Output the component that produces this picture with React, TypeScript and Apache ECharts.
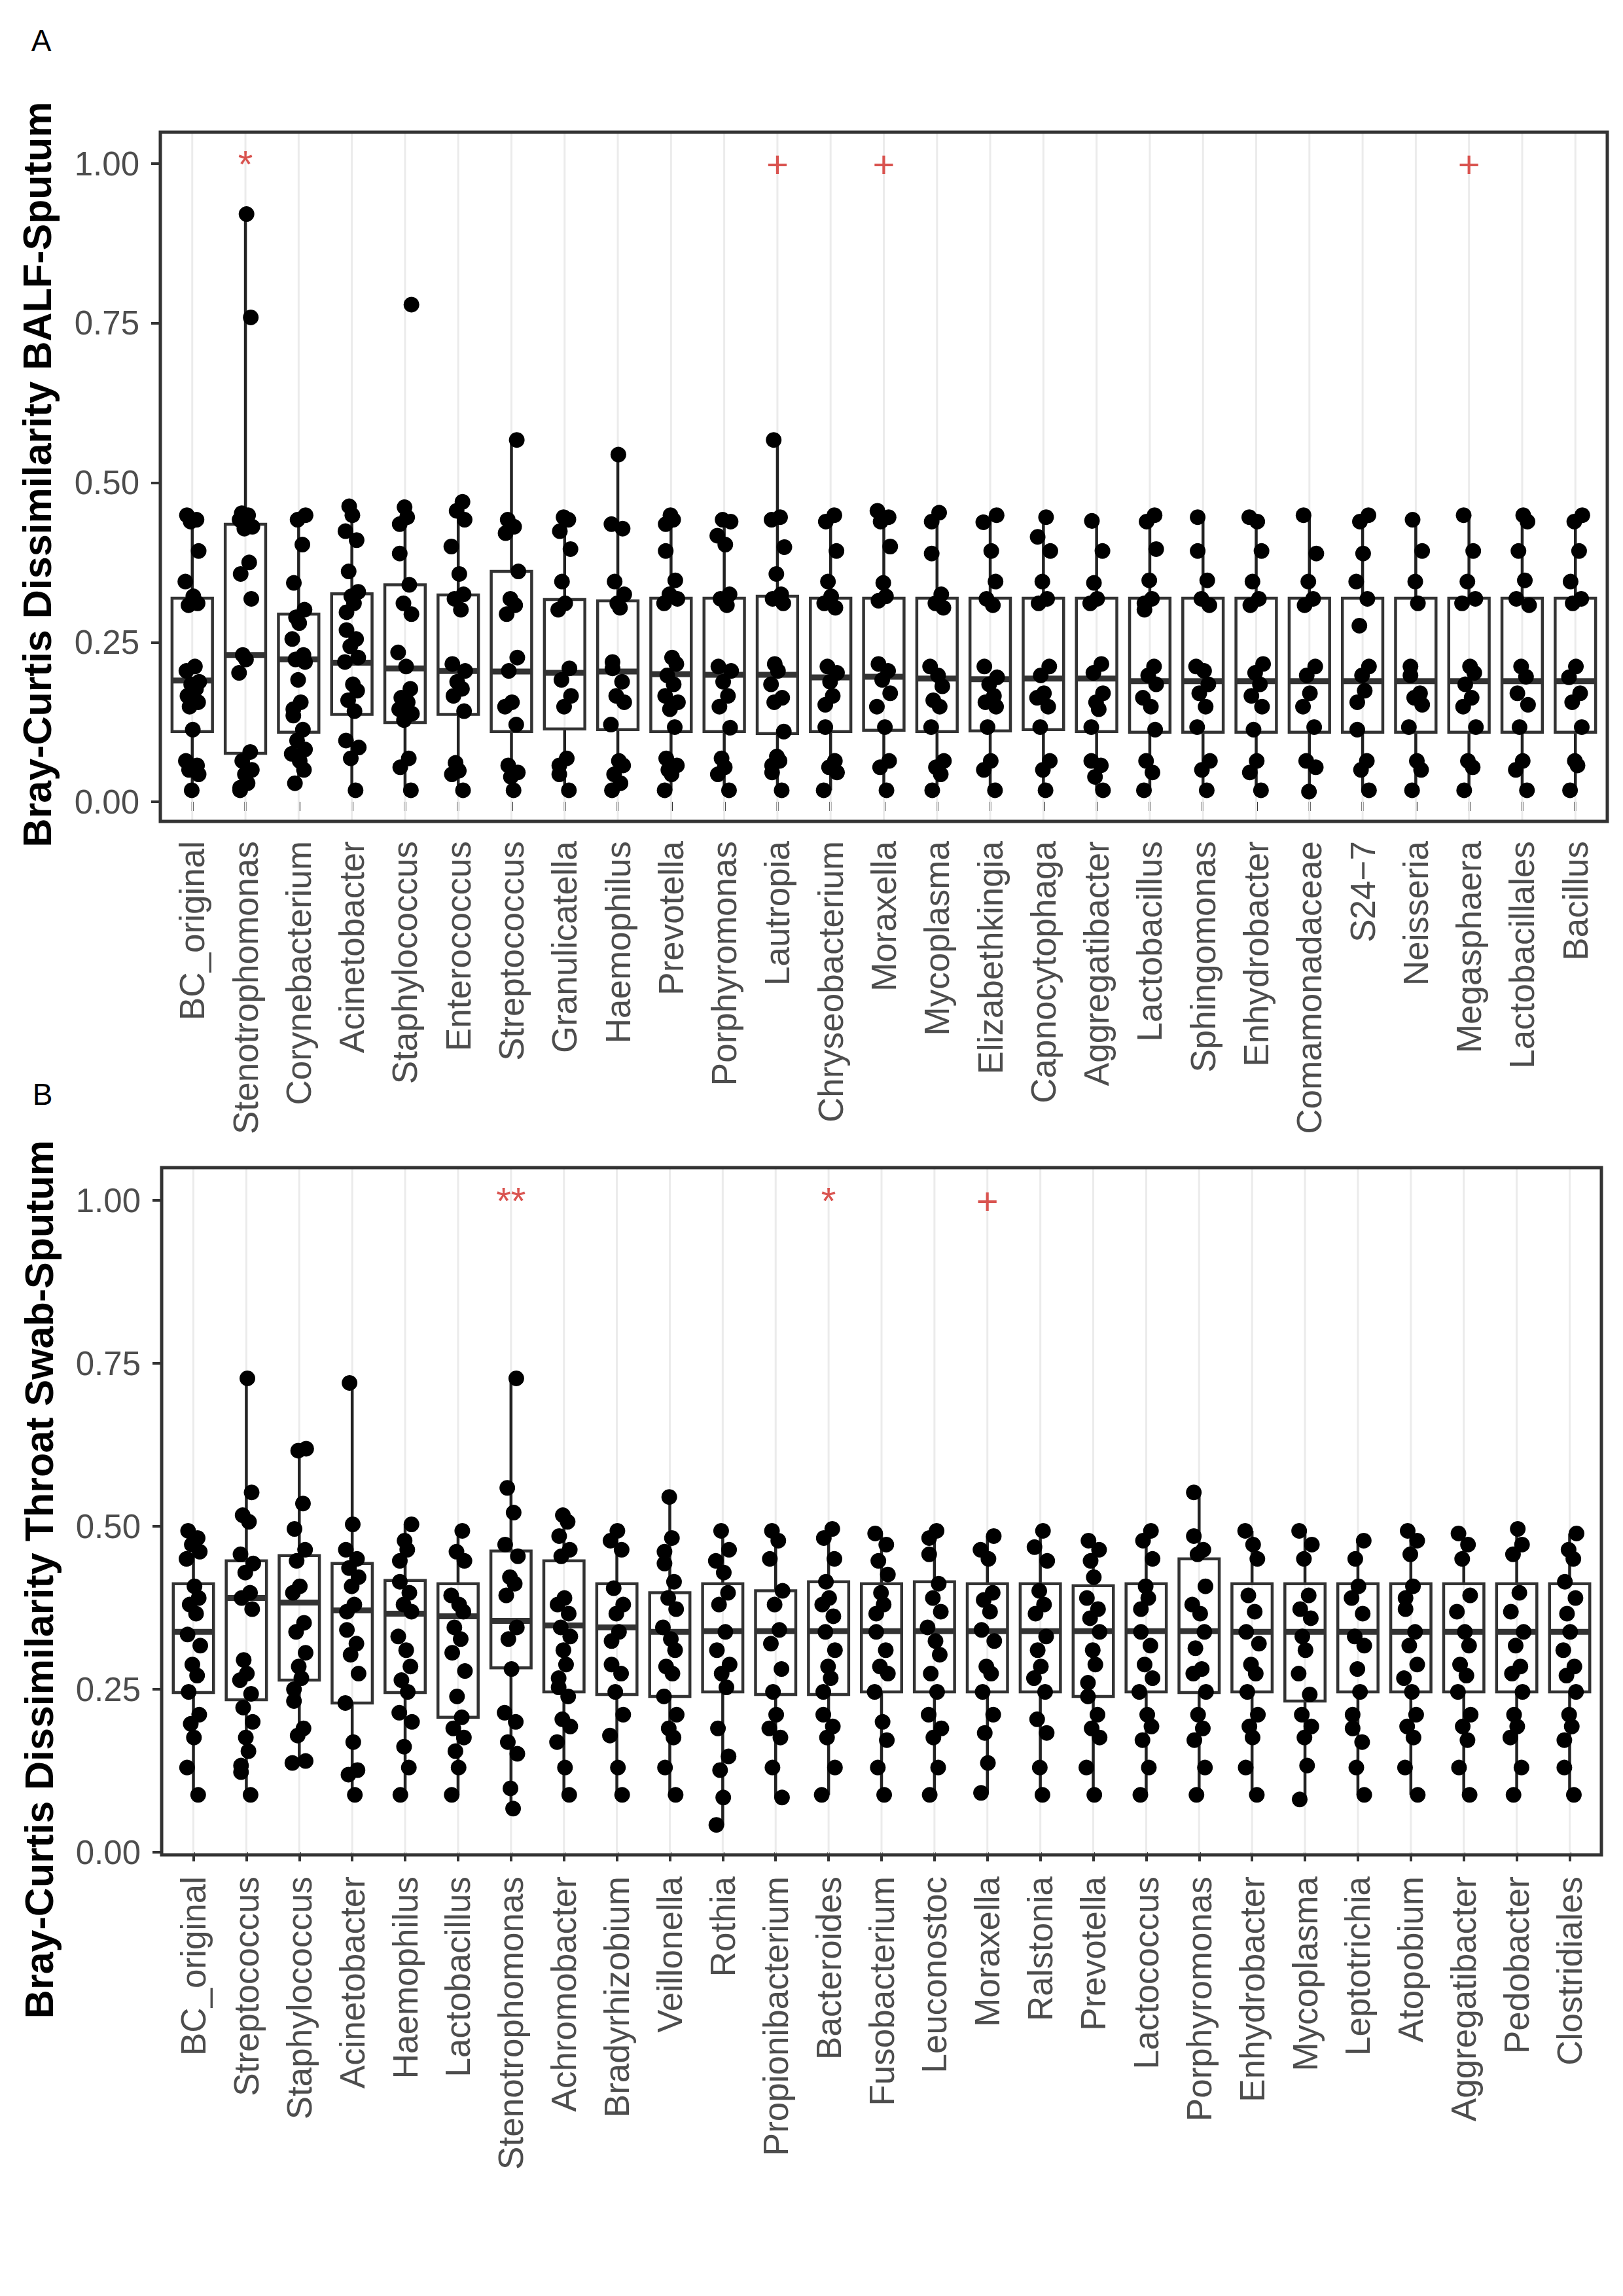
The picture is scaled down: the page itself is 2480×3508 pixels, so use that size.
import React, { useEffect, useRef } from "react";
import * as echarts from "echarts";

// ---------------- DATA ----------------
const CATS_A = [
  "BC_original", "Stenotrophomonas", "Corynebacterium", "Acinetobacter", "Staphylococcus",
  "Enterococcus", "Streptococcus", "Granulicatella", "Haemophilus", "Prevotella",
  "Porphyromonas", "Lautropia", "Chryseobacterium", "Moraxella", "Mycoplasma",
  "Elizabethkingia", "Capnocytophaga", "Aggregatibacter", "Lactobacillus", "Sphingomonas",
  "Enhydrobacter", "Comamonadaceae", "S24\u22127", "Neisseria", "Megasphaera",
  "Lactobacillales", "Bacillus",
];
// [lower whisker, Q1, median, Q3, upper whisker]
const BOX_A = [
  [0.018, 0.110, 0.190, 0.319, 0.449],
  [0.018, 0.076, 0.230, 0.435, 0.921],
  [0.029, 0.109, 0.223, 0.294, 0.449],
  [0.018, 0.137, 0.218, 0.326, 0.463],
  [0.018, 0.124, 0.209, 0.340, 0.463],
  [0.018, 0.137, 0.205, 0.324, 0.470],
  [0.018, 0.110, 0.204, 0.361, 0.567],
  [0.018, 0.114, 0.202, 0.317, 0.446],
  [0.018, 0.113, 0.204, 0.315, 0.544],
  [0.018, 0.110, 0.200, 0.319, 0.449],
  [0.018, 0.110, 0.199, 0.319, 0.442],
  [0.018, 0.107, 0.199, 0.322, 0.567],
  [0.018, 0.110, 0.195, 0.319, 0.449],
  [0.018, 0.112, 0.196, 0.319, 0.456],
  [0.018, 0.110, 0.193, 0.319, 0.453],
  [0.018, 0.111, 0.192, 0.319, 0.449],
  [0.018, 0.113, 0.193, 0.319, 0.446],
  [0.018, 0.110, 0.193, 0.319, 0.442],
  [0.018, 0.109, 0.189, 0.319, 0.449],
  [0.018, 0.109, 0.189, 0.319, 0.446],
  [0.018, 0.109, 0.189, 0.319, 0.446],
  [0.018, 0.109, 0.189, 0.319, 0.449],
  [0.018, 0.109, 0.189, 0.319, 0.449],
  [0.018, 0.109, 0.189, 0.319, 0.442],
  [0.018, 0.109, 0.189, 0.319, 0.449],
  [0.018, 0.109, 0.189, 0.319, 0.449],
  [0.018, 0.109, 0.189, 0.319, 0.449],
];
const PTS_A = [
  [0.449, 0.442, 0.439, 0.393, 0.345, 0.322, 0.311, 0.308, 0.212, 0.205, 0.188, 0.184, 0.177, 0.166, 0.156, 0.149, 0.113, 0.064, 0.057, 0.050, 0.043, 0.018],
  [0.921, 0.759, 0.453, 0.449, 0.442, 0.431, 0.428, 0.375, 0.357, 0.318, 0.230, 0.223, 0.202, 0.078, 0.064, 0.050, 0.043, 0.029, 0.022, 0.018],
  [0.449, 0.442, 0.403, 0.343, 0.301, 0.290, 0.280, 0.255, 0.230, 0.223, 0.219, 0.191, 0.156, 0.145, 0.135, 0.113, 0.096, 0.082, 0.075, 0.064, 0.050, 0.029],
  [0.463, 0.449, 0.424, 0.410, 0.361, 0.329, 0.322, 0.311, 0.297, 0.269, 0.255, 0.244, 0.226, 0.219, 0.184, 0.174, 0.159, 0.142, 0.096, 0.085, 0.068, 0.018],
  [0.779, 0.463, 0.446, 0.435, 0.389, 0.340, 0.311, 0.294, 0.234, 0.212, 0.177, 0.163, 0.156, 0.145, 0.138, 0.128, 0.068, 0.054, 0.018],
  [0.470, 0.456, 0.442, 0.400, 0.357, 0.325, 0.318, 0.301, 0.216, 0.205, 0.188, 0.177, 0.166, 0.142, 0.061, 0.050, 0.043, 0.018],
  [0.567, 0.442, 0.431, 0.421, 0.361, 0.318, 0.308, 0.294, 0.226, 0.205, 0.156, 0.149, 0.121, 0.057, 0.046, 0.039, 0.018],
  [0.446, 0.442, 0.424, 0.396, 0.345, 0.311, 0.301, 0.209, 0.191, 0.166, 0.149, 0.068, 0.057, 0.043, 0.018],
  [0.544, 0.435, 0.428, 0.345, 0.325, 0.311, 0.304, 0.219, 0.209, 0.188, 0.166, 0.156, 0.121, 0.064, 0.057, 0.043, 0.029, 0.018],
  [0.449, 0.442, 0.435, 0.393, 0.347, 0.325, 0.318, 0.311, 0.226, 0.216, 0.198, 0.184, 0.166, 0.156, 0.145, 0.117, 0.068, 0.057, 0.050, 0.043, 0.018],
  [0.442, 0.439, 0.417, 0.403, 0.325, 0.318, 0.308, 0.212, 0.205, 0.188, 0.166, 0.149, 0.117, 0.068, 0.054, 0.043, 0.018],
  [0.567, 0.446, 0.442, 0.400, 0.357, 0.325, 0.318, 0.311, 0.216, 0.205, 0.184, 0.163, 0.156, 0.110, 0.071, 0.064, 0.057, 0.046, 0.018],
  [0.449, 0.439, 0.393, 0.345, 0.322, 0.311, 0.304, 0.212, 0.202, 0.188, 0.166, 0.152, 0.117, 0.064, 0.054, 0.046, 0.018],
  [0.456, 0.446, 0.439, 0.400, 0.343, 0.322, 0.315, 0.216, 0.205, 0.191, 0.170, 0.149, 0.117, 0.064, 0.054, 0.018],
  [0.453, 0.439, 0.389, 0.325, 0.311, 0.304, 0.212, 0.198, 0.181, 0.159, 0.149, 0.117, 0.064, 0.054, 0.043, 0.018],
  [0.449, 0.439, 0.393, 0.345, 0.318, 0.308, 0.212, 0.195, 0.184, 0.166, 0.156, 0.149, 0.117, 0.064, 0.050, 0.018],
  [0.446, 0.417, 0.393, 0.345, 0.318, 0.311, 0.212, 0.198, 0.170, 0.163, 0.149, 0.117, 0.064, 0.050, 0.018],
  [0.442, 0.393, 0.343, 0.318, 0.311, 0.216, 0.202, 0.170, 0.156, 0.145, 0.117, 0.064, 0.057, 0.039, 0.018],
  [0.449, 0.439, 0.396, 0.347, 0.318, 0.311, 0.301, 0.212, 0.198, 0.184, 0.163, 0.149, 0.113, 0.064, 0.046, 0.018],
  [0.446, 0.393, 0.347, 0.318, 0.308, 0.212, 0.205, 0.184, 0.170, 0.149, 0.117, 0.064, 0.050, 0.018],
  [0.446, 0.439, 0.393, 0.345, 0.318, 0.308, 0.216, 0.202, 0.184, 0.166, 0.149, 0.113, 0.064, 0.046, 0.018],
  [0.449, 0.389, 0.345, 0.318, 0.308, 0.212, 0.198, 0.170, 0.149, 0.117, 0.064, 0.054, 0.018],
  [0.449, 0.439, 0.389, 0.345, 0.318, 0.276, 0.212, 0.198, 0.174, 0.156, 0.113, 0.064, 0.050, 0.018],
  [0.442, 0.393, 0.345, 0.311, 0.212, 0.198, 0.170, 0.163, 0.152, 0.117, 0.064, 0.050, 0.018],
  [0.449, 0.393, 0.345, 0.318, 0.311, 0.212, 0.202, 0.184, 0.163, 0.149, 0.117, 0.064, 0.054, 0.018],
  [0.449, 0.439, 0.393, 0.347, 0.318, 0.308, 0.212, 0.198, 0.170, 0.152, 0.117, 0.064, 0.050, 0.018],
  [0.449, 0.439, 0.393, 0.345, 0.318, 0.311, 0.212, 0.195, 0.170, 0.156, 0.117, 0.064, 0.057, 0.018],
];
const SIG_A_CATS = ["Stenotrophomonas", "Lautropia", "Moraxella", "Megasphaera"];
const SIG_A_MARKS = ["*", "+", "+", "+"];

const CATS_B = [
  "BC_original", "Streptococcus", "Staphylococcus", "Acinetobacter", "Haemophilus",
  "Lactobacillus", "Stenotrophomonas", "Achromobacter", "Bradyrhizobium", "Veillonella",
  "Rothia", "Propionibacterium", "Bacteroides", "Fusobacterium", "Leuconostoc",
  "Moraxella", "Ralstonia", "Prevotella", "Lactococcus", "Porphyromonas",
  "Enhydrobacter", "Mycoplasma", "Leptotrichia", "Atopobium", "Aggregatibacter",
  "Pedobacter", "Clostridiales",
];
const BOX_B = [
  [0.088, 0.245, 0.338, 0.412, 0.493],
  [0.088, 0.234, 0.390, 0.447, 0.727],
  [0.137, 0.264, 0.383, 0.455, 0.619],
  [0.088, 0.229, 0.371, 0.443, 0.720],
  [0.088, 0.245, 0.366, 0.417, 0.503],
  [0.088, 0.207, 0.362, 0.412, 0.493],
  [0.067, 0.283, 0.355, 0.462, 0.727],
  [0.088, 0.246, 0.348, 0.447, 0.517],
  [0.088, 0.242, 0.345, 0.412, 0.493],
  [0.088, 0.239, 0.338, 0.398, 0.545],
  [0.042, 0.246, 0.339, 0.412, 0.493],
  [0.084, 0.242, 0.339, 0.401, 0.493],
  [0.088, 0.242, 0.339, 0.415, 0.496],
  [0.088, 0.246, 0.339, 0.412, 0.489],
  [0.088, 0.246, 0.339, 0.415, 0.493],
  [0.091, 0.246, 0.339, 0.412, 0.485],
  [0.088, 0.246, 0.339, 0.412, 0.493],
  [0.088, 0.239, 0.339, 0.409, 0.478],
  [0.088, 0.246, 0.339, 0.412, 0.493],
  [0.088, 0.245, 0.339, 0.450, 0.552],
  [0.088, 0.246, 0.338, 0.412, 0.493],
  [0.081, 0.232, 0.338, 0.412, 0.493],
  [0.088, 0.246, 0.338, 0.412, 0.478],
  [0.088, 0.246, 0.338, 0.412, 0.493],
  [0.088, 0.246, 0.338, 0.412, 0.489],
  [0.088, 0.246, 0.338, 0.412, 0.496],
  [0.088, 0.246, 0.338, 0.412, 0.489],
];
const PTS_B = [
  [0.493, 0.482, 0.472, 0.461, 0.450, 0.408, 0.390, 0.380, 0.366, 0.334, 0.317, 0.288, 0.271, 0.246, 0.211, 0.197, 0.176, 0.130, 0.088],
  [0.727, 0.552, 0.517, 0.507, 0.457, 0.443, 0.429, 0.398, 0.390, 0.373, 0.295, 0.274, 0.264, 0.243, 0.222, 0.200, 0.176, 0.155, 0.133, 0.123, 0.088],
  [0.619, 0.616, 0.535, 0.496, 0.464, 0.447, 0.408, 0.398, 0.352, 0.338, 0.306, 0.285, 0.267, 0.250, 0.232, 0.190, 0.179, 0.140, 0.137],
  [0.720, 0.503, 0.464, 0.450, 0.436, 0.422, 0.408, 0.380, 0.369, 0.341, 0.320, 0.303, 0.274, 0.229, 0.169, 0.126, 0.119, 0.088],
  [0.503, 0.478, 0.464, 0.447, 0.415, 0.398, 0.380, 0.369, 0.331, 0.310, 0.285, 0.264, 0.246, 0.214, 0.200, 0.162, 0.130, 0.088],
  [0.493, 0.461, 0.447, 0.394, 0.380, 0.369, 0.345, 0.327, 0.306, 0.278, 0.239, 0.207, 0.190, 0.176, 0.155, 0.130, 0.088],
  [0.727, 0.559, 0.521, 0.472, 0.454, 0.422, 0.412, 0.394, 0.345, 0.327, 0.281, 0.214, 0.200, 0.169, 0.151, 0.098, 0.067],
  [0.517, 0.507, 0.485, 0.464, 0.454, 0.390, 0.380, 0.366, 0.345, 0.331, 0.310, 0.288, 0.267, 0.253, 0.239, 0.204, 0.193, 0.169, 0.130, 0.088],
  [0.493, 0.478, 0.464, 0.405, 0.380, 0.366, 0.338, 0.324, 0.288, 0.274, 0.246, 0.211, 0.179, 0.130, 0.088],
  [0.545, 0.482, 0.461, 0.443, 0.415, 0.390, 0.373, 0.345, 0.327, 0.310, 0.285, 0.274, 0.239, 0.211, 0.190, 0.176, 0.130, 0.088],
  [0.493, 0.464, 0.447, 0.429, 0.398, 0.380, 0.338, 0.310, 0.288, 0.274, 0.253, 0.190, 0.147, 0.126, 0.084, 0.042],
  [0.493, 0.478, 0.450, 0.401, 0.380, 0.341, 0.320, 0.281, 0.246, 0.211, 0.190, 0.176, 0.130, 0.084],
  [0.496, 0.482, 0.450, 0.415, 0.390, 0.380, 0.362, 0.338, 0.310, 0.285, 0.267, 0.246, 0.211, 0.193, 0.176, 0.130, 0.088],
  [0.489, 0.472, 0.447, 0.426, 0.398, 0.380, 0.366, 0.338, 0.310, 0.285, 0.274, 0.246, 0.200, 0.172, 0.130, 0.088],
  [0.493, 0.482, 0.457, 0.412, 0.390, 0.369, 0.345, 0.324, 0.303, 0.274, 0.246, 0.211, 0.190, 0.176, 0.130, 0.088],
  [0.485, 0.464, 0.450, 0.398, 0.387, 0.369, 0.341, 0.324, 0.285, 0.274, 0.246, 0.211, 0.183, 0.137, 0.091],
  [0.493, 0.468, 0.447, 0.401, 0.380, 0.366, 0.331, 0.310, 0.285, 0.267, 0.246, 0.204, 0.183, 0.130, 0.088],
  [0.478, 0.464, 0.447, 0.422, 0.390, 0.373, 0.359, 0.338, 0.310, 0.288, 0.260, 0.239, 0.211, 0.190, 0.176, 0.130, 0.088],
  [0.493, 0.478, 0.450, 0.408, 0.390, 0.373, 0.338, 0.317, 0.288, 0.267, 0.246, 0.211, 0.193, 0.172, 0.130, 0.088],
  [0.552, 0.485, 0.464, 0.457, 0.408, 0.380, 0.366, 0.338, 0.313, 0.281, 0.274, 0.246, 0.211, 0.190, 0.172, 0.130, 0.088],
  [0.493, 0.472, 0.450, 0.394, 0.369, 0.338, 0.320, 0.288, 0.274, 0.246, 0.211, 0.193, 0.176, 0.130, 0.088],
  [0.493, 0.472, 0.450, 0.394, 0.373, 0.359, 0.331, 0.310, 0.274, 0.242, 0.211, 0.193, 0.176, 0.133, 0.081],
  [0.478, 0.450, 0.408, 0.390, 0.366, 0.331, 0.317, 0.281, 0.246, 0.211, 0.190, 0.169, 0.130, 0.088],
  [0.493, 0.478, 0.457, 0.408, 0.390, 0.373, 0.338, 0.317, 0.288, 0.267, 0.246, 0.211, 0.193, 0.176, 0.130, 0.088],
  [0.489, 0.472, 0.450, 0.394, 0.369, 0.338, 0.317, 0.288, 0.271, 0.246, 0.211, 0.193, 0.172, 0.130, 0.088],
  [0.496, 0.472, 0.457, 0.398, 0.369, 0.338, 0.317, 0.285, 0.274, 0.246, 0.211, 0.193, 0.176, 0.130, 0.088],
  [0.489, 0.464, 0.450, 0.415, 0.390, 0.366, 0.338, 0.310, 0.285, 0.271, 0.246, 0.211, 0.193, 0.172, 0.130, 0.088],
];
const SIG_B_CATS = ["Stenotrophomonas", "Bacteroides", "Moraxella"];
const SIG_B_MARKS = ["**", "*", "+"];

const SIG_Y = 1.0;
const Y_TICKS = [0, 0.25, 0.5, 0.75, 1];
const Y_TICK_LABELS = ["0.00", "0.25", "0.50", "0.75", "1.00"];
const TITLE_A = "Bray-Curtis Dissimilarity BALF-Sputum";
const TITLE_B = "Bray-Curtis Dissimilarity Throat Swab-Sputum";

// ---------------- STYLE / LAYOUT ----------------
const FONT = "'Liberation Sans', Arial, Helvetica, sans-serif";
const W = 2480;
const H = 3508;
// horizontal jitter pattern (fraction of a category band), purely presentational
const JITTER = [-0.1, 0.08, -0.03, 0.12, -0.13, 0.02, 0.1, -0.07, 0.05, -0.11, 0.13, -0.02,
  0.07, -0.09, 0.11, -0.05, 0.01, -0.12, 0.09, -0.06, 0.12, -0.01, 0.04, -0.1];
const DOT_R = 12;
const BOX_FRAC = 0.76;
const DARK = "#333333";
const RED = "#d9534f";

const PANELS = [
  { cats: CATS_A, box: BOX_A, pts: PTS_A, sigCats: SIG_A_CATS, sigMarks: SIG_A_MARKS, title: TITLE_A,
    frame: { l: 245, t: 202, r: 2456, b: 1255 }, yZero: 1225, yOne: 250,
    titleX: 57, titleY: 725, letter: "A", letterX: 63, letterY: 62, xLabelMargin: 30 },
  { cats: CATS_B, box: BOX_B, pts: PTS_B, sigCats: SIG_B_CATS, sigMarks: SIG_B_MARKS, title: TITLE_B,
    frame: { l: 247, t: 1784, r: 2447, b: 2834 }, yZero: 2830, yOne: 1834,
    titleX: 60, titleY: 2413, letter: "B", letterX: 65, letterY: 1672, xLabelMargin: 33 },
];

function buildOption() {
  const grids: any[] = [];
  const xAxes: any[] = [];
  const yAxes: any[] = [];
  const series: any[] = [];
  const graphics: any[] = [];

  PANELS.forEach((p, gi) => {
    const n = p.cats.length;
    const band = (p.frame.r - p.frame.l) / (n - 1 + 1.2);
    const gridLeft = p.frame.l + 0.1 * band;
    grids.push({
      left: gridLeft, top: p.yOne, width: n * band, height: p.yZero - p.yOne,
      containLabel: false, outerBoundsMode: "none", show: false,
    });
    xAxes.push({
      type: "category", gridIndex: gi, data: p.cats, position: "bottom",
      offset: p.frame.b - p.yZero,
      axisLine: { show: false },
      axisTick: { show: true, alignWithLabel: true, length: 14, lineStyle: { color: DARK, width: 4 } },
      axisLabel: { show: true, interval: 0, rotate: 90, fontSize: 53, color: "#4d4d4d",
        fontFamily: FONT, margin: p.xLabelMargin },
      splitLine: { show: false },
    });
    yAxes.push({
      type: "value", gridIndex: gi, min: Y_TICKS[0], max: Y_TICKS[Y_TICKS.length - 1], interval: 0.25,
      offset: 0.1 * band,
      axisLine: { show: false },
      axisTick: { show: true, length: 14, lineStyle: { color: DARK, width: 4 } },
      axisLabel: { show: true, fontSize: 51, color: "#4d4d4d", fontFamily: FONT, margin: 32,
        formatter: (v: number) => {
          const idx = Y_TICKS.findIndex((t) => Math.abs(t - v) < 1e-9);
          return idx >= 0 ? Y_TICK_LABELS[idx] : "";
        } },
      splitLine: { show: false },
    });

    const frame = p.frame;
    // vertical grid lines
    series.push({
      type: "custom", xAxisIndex: gi, yAxisIndex: gi, z: 1, silent: true,
      data: p.cats.map((_, i) => [i, 0]),
      encode: { x: 0, y: 1 },
      renderItem: (params: any, api: any) => {
        const x = api.coord([api.value(0), 0])[0];
        return { type: "line", shape: { x1: x, y1: frame.t, x2: x, y2: frame.b },
          style: { stroke: "#ebebeb", lineWidth: 3 } };
      },
    });
    // boxes
    series.push({
      type: "custom", xAxisIndex: gi, yAxisIndex: gi, z: 2, silent: true,
      data: p.box.map((s, i) => [i, s[0], s[1], s[2], s[3], s[4]]),
      encode: { x: 0, y: [1, 2, 3, 4, 5] },
      renderItem: (params: any, api: any) => {
        const i = api.value(0);
        const bw = api.size([1, 0])[0] * BOX_FRAC;
        const cx = api.coord([i, api.value(1)])[0];
        const yLw = api.coord([i, api.value(1)])[1];
        const yQ1 = api.coord([i, api.value(2)])[1];
        const yMd = api.coord([i, api.value(3)])[1];
        const yQ3 = api.coord([i, api.value(4)])[1];
        const yUw = api.coord([i, api.value(5)])[1];
        const ls = { stroke: "#222222", lineWidth: 4.5 };
        return {
          type: "group",
          children: [
            { type: "line", shape: { x1: cx, y1: yUw, x2: cx, y2: yQ3 }, style: ls },
            { type: "line", shape: { x1: cx, y1: yQ1, x2: cx, y2: yLw }, style: ls },
            { type: "rect", shape: { x: cx - bw / 2, y: yQ3, width: bw, height: yQ1 - yQ3 },
              style: { fill: "none", stroke: DARK, lineWidth: 4.5 } },
            { type: "line", shape: { x1: cx - bw / 2, y1: yMd, x2: cx + bw / 2, y2: yMd },
              style: { stroke: DARK, lineWidth: 9 } },
          ],
        };
      },
    });
    // jittered points
    const ptData: number[][] = [];
    p.pts.forEach((arr, i) => arr.forEach((v, k) => ptData.push([i, v, k + i * 5])));
    series.push({
      type: "custom", xAxisIndex: gi, yAxisIndex: gi, z: 3, silent: true,
      data: ptData,
      encode: { x: 0, y: 1 },
      renderItem: (params: any, api: any) => {
        const c = api.coord([api.value(0), api.value(1)]);
        const bandW = api.size([1, 0])[0];
        const j = JITTER[api.value(2) % JITTER.length];
        return { type: "circle", shape: { cx: c[0] + j * bandW, cy: c[1], r: DOT_R },
          style: { fill: "#000000" } };
      },
    });
    // significance marks
    const marks = p.sigMarks;
    series.push({
      type: "custom", xAxisIndex: gi, yAxisIndex: gi, z: 4, silent: true, clip: false,
      data: p.sigCats.map((c) => [p.cats.indexOf(c), SIG_Y]),
      encode: { x: 0, y: 1 },
      renderItem: (params: any, api: any) => {
        const c = api.coord([api.value(0), api.value(1)]);
        return { type: "text", x: c[0], y: c[1],
          style: { text: marks[params.dataIndex], fill: RED, fontSize: 58, fontFamily: FONT,
            align: "center", verticalAlign: "middle" } };
      },
    });

    // panel border
    graphics.push({
      type: "rect", z: 100, silent: true,
      shape: { x: frame.l, y: frame.t, width: frame.r - frame.l, height: frame.b - frame.t },
      style: { fill: "none", stroke: DARK, lineWidth: 5 },
    });
    // y axis title
    graphics.push({
      type: "text", z: 100, silent: true, x: p.titleX, y: p.titleY, rotation: Math.PI / 2,
      style: { text: p.title, fill: "#000", fontSize: 61, fontWeight: "bold", fontFamily: FONT,
        align: "center", verticalAlign: "middle" },
    });
    // panel letter
    graphics.push({
      type: "text", z: 100, silent: true, x: p.letterX, y: p.letterY,
      style: { text: p.letter, fill: "#000", fontSize: 46,
        fontFamily: "'Liberation Sans Narrow', 'Liberation Sans', Arial, sans-serif",
        align: "center", verticalAlign: "middle" },
    });
  });

  return {
    animation: false,
    backgroundColor: "#ffffff",
    grid: grids,
    xAxis: xAxes,
    yAxis: yAxes,
    series,
    graphic: { elements: graphics },
  };
}

export default function App() {
  const ref = useRef<HTMLDivElement>(null);
  useEffect(() => {
    if (!ref.current) return;
    const chart = echarts.init(ref.current, null, { renderer: "svg", width: W, height: H });
    chart.setOption(buildOption() as any);
    return () => chart.dispose();
  }, []);
  return (
    <div
      ref={ref}
      style={{ position: "absolute", left: 0, top: 0, width: W, height: H, background: "#fff" }}
    />
  );
}
